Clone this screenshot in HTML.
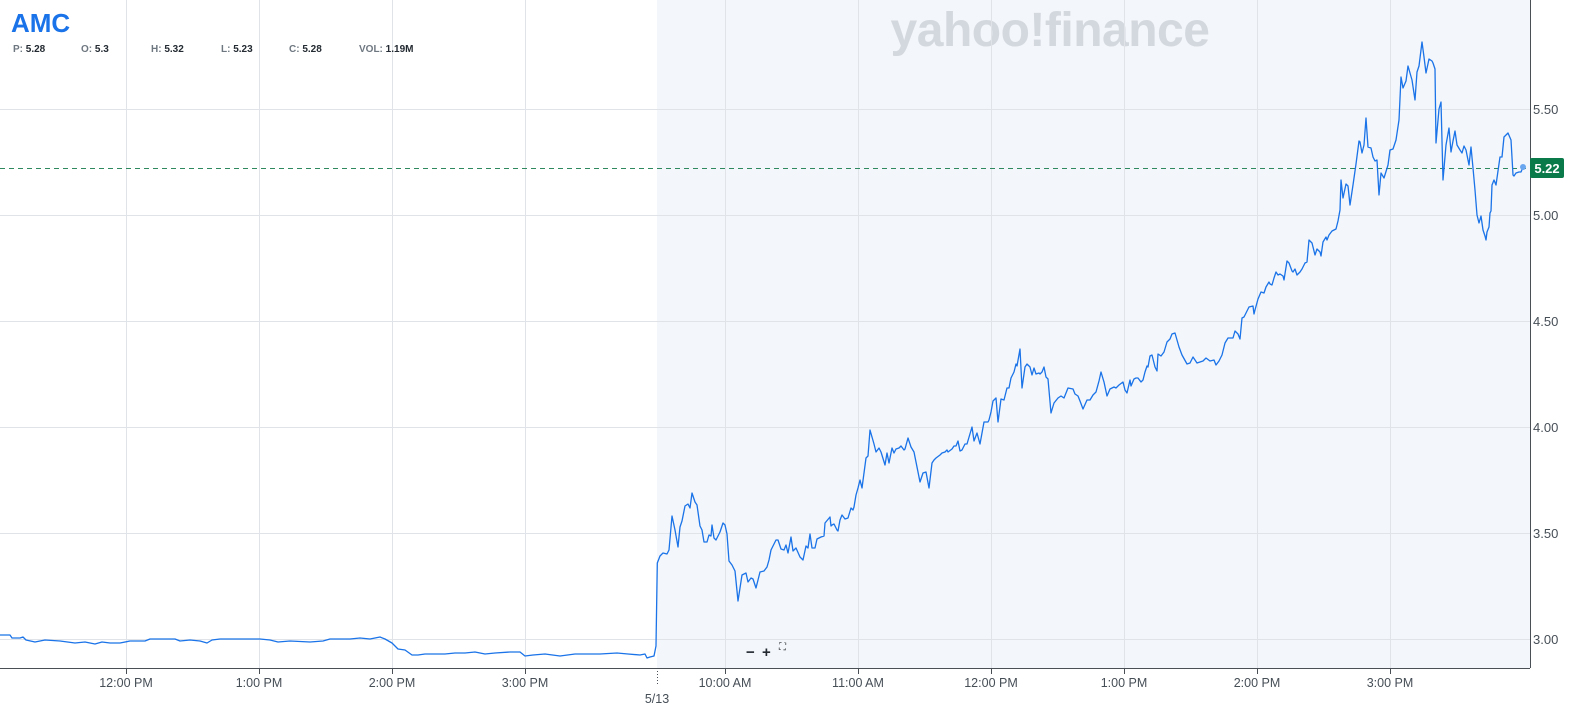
<!DOCTYPE html>
<html><head><meta charset="utf-8"><style>
body{margin:0;background:#fff;width:1590px;height:708px;overflow:hidden;font-family:"Liberation Sans",sans-serif}
</style></head><body>
<svg width="1590" height="708" xmlns="http://www.w3.org/2000/svg" style="display:block;font-family:'Liberation Sans',sans-serif">
<rect x="657" y="0" width="873" height="668" fill="#f3f6fa"/>
<text x="1050" y="46" text-anchor="middle" font-size="48" font-weight="bold" fill="#d3d8df" letter-spacing="-0.5">yahoo!finance</text>
<g stroke="#e0e3e7" stroke-width="1">
<line x1="0" y1="109.5" x2="1530" y2="109.5"/><line x1="0" y1="215.5" x2="1530" y2="215.5"/>
<line x1="0" y1="321.5" x2="1530" y2="321.5"/><line x1="0" y1="427.5" x2="1530" y2="427.5"/>
<line x1="0" y1="533.5" x2="1530" y2="533.5"/><line x1="0" y1="639.5" x2="1530" y2="639.5"/>
<line x1="126.5" y1="0" x2="126.5" y2="668"/><line x1="259.5" y1="0" x2="259.5" y2="668"/>
<line x1="392.5" y1="0" x2="392.5" y2="668"/><line x1="525.5" y1="0" x2="525.5" y2="668"/>
<line x1="725.5" y1="0" x2="725.5" y2="668"/><line x1="858.5" y1="0" x2="858.5" y2="668"/>
<line x1="991.5" y1="0" x2="991.5" y2="668"/><line x1="1124.5" y1="0" x2="1124.5" y2="668"/>
<line x1="1257.5" y1="0" x2="1257.5" y2="668"/><line x1="1390.5" y1="0" x2="1390.5" y2="668"/>
</g>
<line x1="0" y1="168.5" x2="1530" y2="168.5" stroke="#2e8a5e" stroke-width="1" stroke-dasharray="5,4"/>
<polyline fill="none" stroke="#1a73e8" stroke-width="1.3" stroke-linejoin="round" points="0,635 10,635 12,638 20,638 23,637 26,640 35,642 45,640 60,641 75,643 85,642 95,644 102,642 110,643 120,643 130,641 145,641 150,639 165,639 175,639 180,641 190,640 200,641 207,643 212,640 220,639 240,639 250,639 260,639 270,640 278,642 290,641 310,642 323,641 330,639 340,639 350,639 360,638 370,639 380,637 385,639 392,643 398,649 405,650 412,655 418,655 425,654 435,654 445,654 455,653 465,653 475,652 485,654 495,653 510,652 520,652 525,656 533,655 545,654 560,656 575,654 590,654 600,654 617,653 628,654 640,655 645,654 647,658 650,657 654,656 656,646 657.3,563 660,556 663,553 667,554 669,550 672,516 675,530 678,547 680,527 682,521 685,506 688,504 690,508 692,493 695,502 697,505 700,526 702,530 704,542 707,542 709,535 711,536 712,525 714,538 716,540 720,532 723,523 725,525 727,534 729,561 732,565 735,571 738,601 742,575 746,573 748,582 751,578 753,579 756,588 760,572 764,571 767,567 769,560 771,550 776,540 778,540 781,549 784,550 786,545 788,553 791,537 793,551 796,548 800,557 803,560 806,546 808,548 810,534 812,548 815,548 817,539 821,537 824,536 825,523 830,517 831,526 832,525 834,524 837,530 838,531 840,520 842,515 845,519 848,518 851,508 853,510 854,507 856,495 858,488 860,480 862,488 866,458 868,456 870,430 874,444 876,452 879,448 881,452 885,465 887,453 889,463 892,448 894,453 896,449 899,448 901,446 904,450 905,449 908,438 911,447 914,452 920,482 923,473 926,472 929,488 932,463 934,460 936,458 940,455 942,453 945,452 947,450 948,452 952,449 954,446 956,446 958,441 960,451 962,450 965,444 967,444 972,427 974,441 977,433 980,444 984,422 988,422 989,420 991,412 993,401 996,398 998,422 1001,399 1004,400 1007,388 1009,388 1011,378 1014,372 1016,364 1017,366 1020,349 1022,388 1025,367 1027,364 1030,367 1032,375 1034,368 1036,374 1039,373 1040,374 1042,372 1044,367 1046,377 1048,379 1051,413 1054,403 1058,398 1061,396 1064,398 1068,388 1073,389 1075,394 1078,396 1080,401 1083,409 1087,400 1090,400 1093,395 1096,392 1099,381 1101,372 1104,382 1107,396 1110,389 1114,387 1116,388 1119,385 1123,382 1125,390 1127,393 1130,380 1131,386 1134,379 1136,378 1138,378 1141,382 1143,380 1145,372 1147,366 1148,367 1150,356 1152,355 1155,367 1157,371 1158,354 1161,356 1164,352 1167,342 1170,339 1172,334 1175,333 1179,347 1182,355 1187,364 1190,363 1193,357 1197,363 1200,362 1203,361 1206,358 1210,361 1214,360 1216,365 1219,361 1222,355 1225,343 1228,338 1231,338 1233,338 1235,331 1238,334 1240,339 1242,318 1244,317 1246,313 1249,307 1253,306 1254,314 1255,310 1258,299 1261,292 1264,293 1266,287 1269,282 1270,284 1272,285 1274,278 1276,272 1278,275 1280,274 1283,276 1284,280 1287,261 1289,263 1292,271 1293,272 1295,269 1297,275 1300,272 1302,269 1305,263 1307,262 1309,240 1312,243 1315,255 1317,249 1320,252 1321,256 1323,242 1326,237 1327,240 1329,235 1332,231 1334,230 1336,229 1338,221 1340,210 1341,180 1343,198 1346,184 1348,186 1350,205 1353,185 1356,164 1359,141 1360,142 1362,153 1364,145 1366,118 1368,147 1371,148 1373,157 1375,161 1377,160 1379,195 1381,173 1384,178 1388,165 1390,150 1393,149 1396,140 1399,120 1401,77 1403,88 1406,81 1408,66 1410,73 1412,80 1415,100 1417,72 1419,66 1422,42 1424,57 1426,73 1429,59 1432,61 1433,63 1435,69 1436,143 1439,109 1441,102 1443,180 1446,145 1449,128 1451,152 1453,141 1455,131 1457,145 1460,150 1462,153 1464,146 1466,150 1469,165 1471,147 1473,168 1475,190 1477,215 1479,223 1481,216 1483,230 1485,236 1486,240 1487,232 1489,227 1490,213 1491,211 1492,185 1494,180 1496,185 1500,157 1502,157 1504,137 1508,133 1511,140 1513,175 1514,176 1516,173 1519,172 1521,172 1523,167"/>
<circle cx="1523" cy="167" r="3" fill="#6aa6f0"/>
<line x1="1530.5" y1="0" x2="1530.5" y2="668" stroke="#4a4f55" stroke-width="1"/>
<line x1="0" y1="668.5" x2="1530" y2="668.5" stroke="#4a4f55" stroke-width="1"/>
<g stroke="#4a4f55" stroke-width="1">
<line x1="126.5" y1="668" x2="126.5" y2="674"/><line x1="259.5" y1="668" x2="259.5" y2="674"/><line x1="392.5" y1="668" x2="392.5" y2="674"/><line x1="525.5" y1="668" x2="525.5" y2="674"/><line x1="725.5" y1="668" x2="725.5" y2="674"/><line x1="858.5" y1="668" x2="858.5" y2="674"/><line x1="991.5" y1="668" x2="991.5" y2="674"/><line x1="1124.5" y1="668" x2="1124.5" y2="674"/><line x1="1257.5" y1="668" x2="1257.5" y2="674"/><line x1="1390.5" y1="668" x2="1390.5" y2="674"/>
<line x1="657.5" y1="668" x2="657.5" y2="686" stroke-dasharray="1,2"/>
</g>
<g font-size="12.5" fill="#464e56" text-anchor="middle">
<text x="126" y="687">12:00 PM</text><text x="259" y="687">1:00 PM</text><text x="392" y="687">2:00 PM</text><text x="525" y="687">3:00 PM</text>
<text x="725" y="687">10:00 AM</text><text x="858" y="687">11:00 AM</text><text x="991" y="687">12:00 PM</text><text x="1124" y="687">1:00 PM</text><text x="1257" y="687">2:00 PM</text><text x="1390" y="687">3:00 PM</text>
<text x="657" y="703">5/13</text>
</g>
<g font-size="13" fill="#464e56">
<text x="1533" y="114">5.50</text><text x="1533" y="220">5.00</text><text x="1533" y="326">4.50</text><text x="1533" y="432">4.00</text><text x="1533" y="538">3.50</text><text x="1533" y="644">3.00</text>
</g>
<rect x="1530" y="158" width="34" height="20" rx="2" fill="#0b7a4a"/>
<text x="1547" y="173" font-size="13" font-weight="bold" fill="#fff" text-anchor="middle">5.22</text>
<g font-size="15" font-weight="bold" fill="#232a31">
<rect x="745" y="643" width="50" height="16" fill="#f3f6fa"/>
<text x="746" y="657">−</text><text x="762" y="657">+</text>
</g>
<text x="779" y="650" font-size="10" fill="#232a31">⛶</text>
<text x="11" y="32" font-size="26" font-weight="bold" fill="#1a73e8">AMC</text>
<g font-size="10" font-weight="bold">
<text x="13" y="52"><tspan fill="#6e7780">P: </tspan><tspan fill="#232a31">5.28</tspan></text>
<text x="81" y="52"><tspan fill="#6e7780">O: </tspan><tspan fill="#232a31">5.3</tspan></text>
<text x="151" y="52"><tspan fill="#6e7780">H: </tspan><tspan fill="#232a31">5.32</tspan></text>
<text x="221" y="52"><tspan fill="#6e7780">L: </tspan><tspan fill="#232a31">5.23</tspan></text>
<text x="289" y="52"><tspan fill="#6e7780">C: </tspan><tspan fill="#232a31">5.28</tspan></text>
<text x="359" y="52"><tspan fill="#6e7780">VOL: </tspan><tspan fill="#232a31">1.19M</tspan></text>
</g>
</svg>
</body></html>
